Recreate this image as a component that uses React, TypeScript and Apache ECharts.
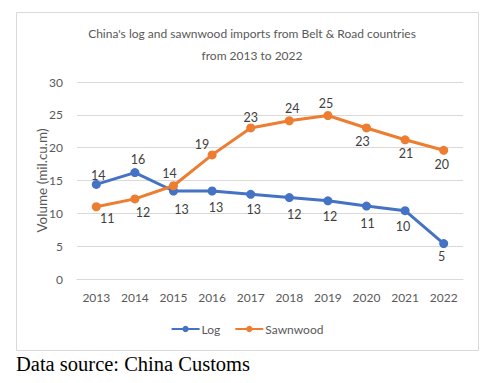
import React, { useEffect, useRef } from "react";
import * as echarts from "echarts";

const years = ["2013", "2014", "2015", "2016", "2017", "2018", "2019", "2020", "2021", "2022"];
const logValues = [14.4, 16.2, 13.4, 13.4, 12.9, 12.4, 11.9, 11.1, 10.4, 5.4];
const sawnwoodValues = [11.0, 12.2, 14.2, 18.9, 23.0, 24.1, 24.9, 23.0, 21.2, 19.6];
const titleText = "China's log and sawnwood imports from Belt & Road countries\nfrom 2013 to 2022";
const yAxisName = "Volume (mil.cu.m)";
const sourceText = "Data source: China Customs";

// label offsets (label centre relative to point), style only
const logOffsets = [[2, -9], [3, -13], [8, 18], [4, 16], [3, 15], [5, 17], [2, 16], [1, 17], [-2, 16], [-2, 13]];
const sawOffsets = [[11, 12], [8, 14], [-4, -12], [-10, -10], [0, -10], [3, -12], [-2, -12], [-4, 14], [1, 14], [-2, 14]];

const FONT = "Lato, 'Noto Sans', sans-serif";
const GRAY = "#595959";

function buildData(values: number[], offsets: number[][]) {
  return values.map((v, i) => ({
    value: v,
    label: { position: "inside", offset: offsets[i] },
  }));
}

export default function App() {
  const ref = useRef<HTMLDivElement>(null);
  useEffect(() => {
    if (!ref.current) return;
    const chart = echarts.init(ref.current, undefined, { renderer: "svg" });
    const labelStyle = {
      show: true,
      color: "#404040",
      fontSize: 12.5,
      fontFamily: FONT,
      formatter: (p: any) => String(Math.round(p.value)),
    };
    chart.setOption({
      animation: false,
      backgroundColor: "#ffffff",
      title: {
        text: titleText,
        left: 247,
        textAlign: "center",
        top: 17,
        textStyle: { color: GRAY, fontSize: 12, fontWeight: "normal", fontFamily: FONT, lineHeight: 22 },
      },
      grid: { left: 77, right: 31, top: 82, bottom: 104 },
      xAxis: {
        type: "category",
        data: years,
        boundaryGap: true,
        axisLine: { lineStyle: { color: "#d9d9d9" } },
        axisTick: { show: false },
        axisLabel: { color: GRAY, fontSize: 12, fontFamily: FONT, margin: 12 },
      },
      yAxis: {
        type: "value",
        min: 0,
        max: 30,
        interval: 5,
        name: yAxisName,
        nameLocation: "middle",
        nameRotate: 90,
        nameGap: 28,
        nameMoveOverlap: false,
        nameTextStyle: { color: GRAY, fontSize: 13.5, fontFamily: FONT },
        axisLine: { show: false },
        axisTick: { show: false },
        splitLine: { lineStyle: { color: "#d9d9d9" } },
        axisLabel: { color: GRAY, fontSize: 12, fontFamily: FONT, margin: 14 },
      },
      legend: {
        top: 318,
        left: "center",
        itemWidth: 28,
        itemHeight: 8,
        itemGap: 14,
        textStyle: { color: GRAY, fontSize: 12, fontFamily: FONT, padding: [0, 0, 0, -3] },
        data: ["Log", "Sawnwood"],
      },
      graphic: [
        {
          type: "rect",
          shape: { x: 16.5, y: 12.5, width: 462, height: 338 },
          style: { fill: "none", stroke: "#d9d9d9", lineWidth: 1 },
          silent: true,
        },
        {
          type: "text",
          left: 16,
          top: 353,
          style: { text: sourceText, fill: "#000000", font: "20.5px 'Liberation Serif', 'Times New Roman', serif" },
        },
      ],
      series: [
        {
          name: "Log",
          type: "line",
          data: buildData(logValues, logOffsets),
          symbol: "circle",
          symbolSize: 9,
          itemStyle: { color: "#4472C4" },
          lineStyle: { color: "#4472C4", width: 3 },
          label: labelStyle,
        },
        {
          name: "Sawnwood",
          type: "line",
          data: buildData(sawnwoodValues, sawOffsets),
          symbol: "circle",
          symbolSize: 9,
          itemStyle: { color: "#ED7D31" },
          lineStyle: { color: "#ED7D31", width: 3 },
          label: labelStyle,
        },
      ],
    });
    return () => chart.dispose();
  }, []);
  return (
    <div
      ref={ref}
      style={{ position: "fixed", left: 0, top: 0, width: 494, height: 383 }}
    />
  );
}
